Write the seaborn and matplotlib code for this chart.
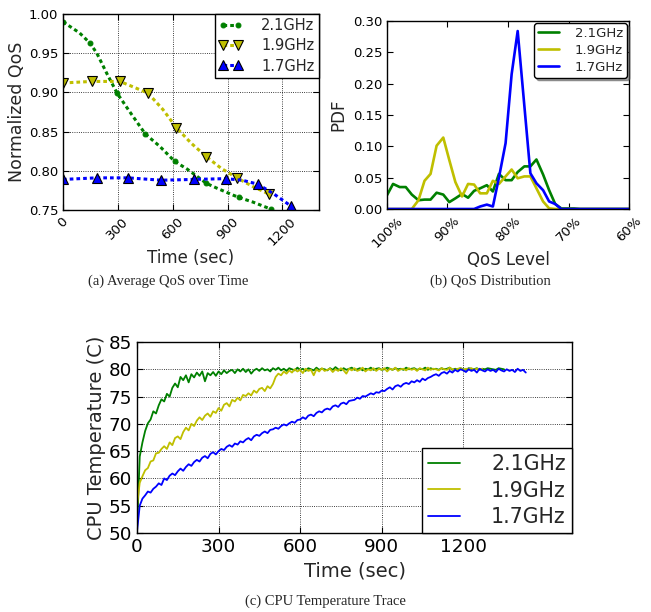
import numpy as np
import matplotlib
matplotlib.use("Agg")
import matplotlib.pyplot as plt
import seaborn as sns

freq_labels = ["2.1GHz", "1.9GHz", "1.7GHz"]
freq_colors = ["#008000", "#bfbf00", "#0000ff"]

# (a) average QoS over time
qos_t_21 = [0, 90, 147, 185, 240, 296, 360, 420, 450, 530, 611, 680, 750, 784, 840, 930, 962, 1040, 1138]
qos_v_21 = [0.990, 0.976, 0.963, 0.950, 0.924, 0.899, 0.877, 0.857, 0.847, 0.831, 0.812, 0.802,
            0.790, 0.784, 0.778, 0.769, 0.766, 0.760, 0.751]
qos_t_19 = [0, 157, 311, 384, 465, 547, 620, 702, 784, 866, 951, 1038, 1129]
qos_v_19 = [0.912, 0.914, 0.914, 0.907, 0.899, 0.878, 0.855, 0.835, 0.818, 0.803, 0.791, 0.780, 0.770]
qos_t_17 = [0, 184, 356, 538, 715, 889, 980, 1065, 1150, 1247]
qos_v_17 = [0.789, 0.791, 0.791, 0.788, 0.789, 0.790, 0.788, 0.783, 0.771, 0.755]
marks_21 = [0, 2, 5, 8, 10, 13, 16, 18]
marks_19 = [0, 1, 2, 4, 6, 8, 10, 12]
marks_17 = [0, 1, 2, 3, 4, 5, 7, 9]

# (b) QoS distribution
qos_level = [100, 99.0, 97.9, 96.9, 95.9, 94.8, 93.8, 92.8, 91.8, 90.7, 89.7, 88.7, 87.6, 86.6,
             85.6, 84.6, 83.5, 82.5, 81.5, 80.4, 79.4, 78.4, 77.3, 76.3, 75.3, 74.2, 73.2, 72.2,
             71.2, 70.1, 69.1, 68.1, 67.0, 66.0, 65.0, 63.9, 62.9, 61.9, 60.0]
pdf_21 = [0.022, 0.040, 0.035, 0.035, 0.023, 0.014, 0.015, 0.015, 0.026, 0.023, 0.011, 0.017, 0.024,
          0.018, 0.029, 0.033, 0.038, 0.028, 0.056, 0.046, 0.046, 0.059, 0.068, 0.068, 0.079, 0.055,
          0.030, 0.008, 0.001, 0.001, 0.001, 0.0, 0.0, 0.0, 0.0, 0.0, 0.0, 0.0, 0.0]
pdf_19 = [0.0, 0.0, 0.0, 0.0, 0.0, 0.014, 0.045, 0.056, 0.101, 0.114, 0.078, 0.043, 0.020, 0.040,
          0.039, 0.025, 0.025, 0.045, 0.040, 0.052, 0.063, 0.049, 0.052, 0.052, 0.033, 0.012, 0.001,
          0.0, 0.0, 0.0, 0.0, 0.0, 0.0, 0.0, 0.0, 0.0, 0.0, 0.0, 0.0]
pdf_17 = [0.0, 0.0, 0.0, 0.0, 0.0, 0.0, 0.0, 0.0, 0.0, 0.0, 0.0, 0.0, 0.0, 0.0, 0.0, 0.004, 0.007,
          0.004, 0.050, 0.105, 0.215, 0.284, 0.165, 0.057, 0.041, 0.030, 0.012, 0.008, 0.0, 0.0, 0.0,
          0.0, 0.0, 0.0, 0.0, 0.0, 0.0, 0.0, 0.0]

# (c) CPU temperature trace, one reading every 10 s
temp_step = 10
temp_21 = [50.5, 64.0, 66.6, 68.7, 70.1, 70.8, 72.3, 71.9, 73.4, 74.5,
           74.1, 75.5, 75.0, 76.6, 77.4, 76.7, 78.6, 78.0, 78.9, 77.6,
           79.1, 78.5, 79.4, 78.8, 79.6, 77.8, 79.3, 78.9, 79.5, 78.8,
           79.6, 79.1, 79.8, 79.3, 79.7, 79.9, 79.3, 80.0, 79.6, 80.1,
           79.5, 80.0, 79.2, 79.8, 80.1, 79.7, 80.2, 79.8, 80.0, 79.6,
           80.2, 79.9, 80.3, 79.8, 80.1, 79.7, 80.2, 80.0, 79.8, 80.3,
           79.9, 80.1, 79.7, 80.2, 80.0, 79.8, 80.3, 79.9, 80.1, 80.0,
           79.8, 80.2, 79.9, 80.4, 80.0, 79.8, 80.2, 79.9, 80.1, 80.3,
           79.9, 80.0, 80.2, 79.8, 80.1, 80.0, 80.3, 79.9, 80.1, 80.2,
           79.9, 80.0, 80.3, 80.1, 79.9, 80.2, 80.0, 80.1, 79.9, 80.3,
           80.0, 80.1, 80.2, 79.9, 80.1, 80.0, 80.3, 79.9, 80.2, 80.0,
           80.1, 79.9, 80.2, 80.0, 80.1, 80.3, 79.9, 80.1, 80.0, 80.2,
           80.0, 79.9, 80.2, 80.1, 80.0, 80.2, 79.9, 80.1, 80.0, 80.2,
           80.1, 80.0, 79.9, 80.2, 80.1, 80.0]
temp_19 = [55.0, 59.2, 60.4, 61.5, 61.9, 63.1, 63.3, 64.6, 64.7, 65.4,
           65.9, 65.4, 66.6, 66.1, 67.4, 67.7, 67.2, 68.5, 69.3, 68.8,
           70.0, 69.6, 70.6, 71.2, 70.7, 71.5, 71.9, 71.3, 72.3, 72.0,
           72.9, 72.4, 73.5, 73.8, 73.2, 74.4, 74.1, 74.8, 74.3, 75.3,
           75.1, 75.6, 75.2, 76.1, 75.7, 76.4, 76.6, 76.0, 76.9, 76.5,
           77.3, 78.6, 79.2, 78.9, 79.6, 79.2, 79.8, 79.4, 80.0, 79.6,
           79.9, 79.3, 80.1, 79.7, 79.9, 78.9, 80.0, 79.6, 80.2, 79.7,
           79.9, 80.1, 79.5, 80.0, 79.7, 80.2, 79.8, 79.2, 80.1, 79.8,
           80.2, 79.7, 79.9, 80.3, 79.6, 80.0, 79.8, 80.2, 79.7, 80.1,
           79.9, 80.2, 79.6, 80.1, 79.9, 80.3, 79.7, 80.0, 80.1, 79.8,
           80.2, 79.9, 80.1, 79.7, 80.2, 80.0, 79.8, 80.3, 79.9, 80.1,
           80.0, 79.8, 80.2, 80.0, 79.9, 80.3, 80.0, 79.9, 80.1, 80.2,
           79.9, 80.1, 80.0, 80.2, 79.9, 80.1, 80.0, 80.1]
temp_17 = [50.3, 55.0, 56.3, 56.9, 57.6, 57.4, 58.1, 58.5, 59.1, 58.8,
           60.0, 59.7, 60.5, 60.9, 60.6, 61.3, 61.8, 61.4, 62.1, 62.6,
           62.3, 63.0, 63.4, 63.1, 63.8, 64.1, 63.7, 64.5, 64.8, 64.4,
           65.0, 65.4, 65.2, 65.8, 66.1, 65.8, 66.4, 66.2, 66.8, 66.6,
           67.1, 67.4, 67.0, 67.7, 68.0, 67.8, 68.3, 68.6, 68.3, 68.9,
           69.0, 69.3, 69.1, 69.6, 69.9, 69.7, 70.1, 70.4, 70.2, 70.7,
           70.8, 71.2, 70.9, 71.5, 71.7, 71.4, 72.0, 72.3, 72.1, 72.6,
           72.8, 72.6, 73.2, 73.4, 73.1, 73.7, 73.9, 73.6, 74.2, 74.3,
           74.4, 74.8, 74.6, 75.1, 75.0, 75.3, 75.6, 75.4, 75.8, 75.7,
           76.1, 76.0, 76.4, 76.7, 76.3, 76.9, 77.1, 76.8, 77.3, 77.5,
           77.3, 77.8, 77.6, 78.0, 77.7, 78.3, 78.0, 78.4, 78.6, 78.9,
           79.1, 78.8, 79.3, 79.5, 79.2, 79.7, 79.4, 79.9, 79.6, 80.0,
           79.8, 79.5, 80.0, 79.7, 79.9, 79.4, 80.1, 79.8, 79.6, 80.0,
           79.7, 79.9, 79.5, 80.1, 79.8, 79.6, 80.0, 79.7, 79.9, 79.5,
           80.1, 79.7, 79.9, 79.4]

sns.set_theme(style="ticks")
plt.rcParams["font.family"] = ["DejaVu Sans"]
plt.rcParams["axes.edgecolor"] = "black"
plt.rcParams["axes.linewidth"] = 1.0

fig = plt.figure(figsize=(6.51, 6.12), dpi=100)


def frame(ax, fs):
    ax.grid(True, color="black", linestyle=":", linewidth=0.6)
    ax.tick_params(direction="in", top=True, right=True, length=4, width=0.8,
                   labelsize=fs, colors="black")
    for s in ax.spines.values():
        s.set_color("black")


# ---- (a)
ax_a = fig.add_axes([63 / 651, 1 - 210 / 612, 256 / 651, 196 / 612])
dots = (0, (1.2, 1.0))
sns.lineplot(x=qos_t_21, y=qos_v_21, ax=ax_a, color=freq_colors[0], lw=2.2, linestyle=dots,
             marker="o", ms=3.5, mec=freq_colors[0], markevery=marks_21, errorbar=None,
             label=freq_labels[0])
sns.lineplot(x=qos_t_19, y=qos_v_19, ax=ax_a, color=freq_colors[1], lw=2.2, linestyle=dots,
             marker="v", ms=6.5, mec="black", mew=0.8, markevery=marks_19, errorbar=None,
             label=freq_labels[1])
sns.lineplot(x=qos_t_17, y=qos_v_17, ax=ax_a, color=freq_colors[2], lw=2.2, linestyle=dots,
             marker="^", ms=6.5, mec="black", mew=0.8, markevery=marks_17, errorbar=None,
             label=freq_labels[2])
ax_a.set_xlim(0, 1400)
ax_a.set_ylim(0.75, 1.0)
ax_a.set_xticks([0, 300, 600, 900, 1200])
ax_a.set_yticks([0.75, 0.80, 0.85, 0.90, 0.95, 1.00])
ax_a.set_yticklabels(["0.75", "0.80", "0.85", "0.90", "0.95", "1.00"])
frame(ax_a, 9.5)
plt.setp(ax_a.get_xticklabels(), rotation=45, ha="center")
ax_a.set_xlabel("Time (sec)", fontsize=12, labelpad=1)
ax_a.set_ylabel("Normalized QoS", fontsize=12.5, labelpad=2)
leg = ax_a.legend(loc="upper right", fontsize=10.5, borderaxespad=0, borderpad=0.3,
                  labelspacing=0.35, handlelength=1.6, handletextpad=1.3, numpoints=2,
                  fancybox=False, framealpha=1)
leg.get_frame().set_edgecolor("black")
leg.get_frame().set_linewidth(1.0)

# ---- (b)
ax_b = fig.add_axes([387 / 651, 1 - 209 / 612, 242 / 651, 188 / 612])
for vals, c, lab in zip([pdf_21, pdf_19, pdf_17], freq_colors, freq_labels):
    sns.lineplot(x=qos_level, y=vals, ax=ax_b, color=c, lw=1.9, errorbar=None, label=lab)
ax_b.set_xlim(100, 60)
ax_b.set_ylim(0, 0.30)
ax_b.set_xticks([100, 90, 80, 70, 60])
ax_b.set_xticklabels(["100%", "90%", "80%", "70%", "60%"])
ax_b.set_yticks([0, 0.05, 0.10, 0.15, 0.20, 0.25, 0.30])
ax_b.set_yticklabels(["0.00", "0.05", "0.10", "0.15", "0.20", "0.25", "0.30"])
frame(ax_b, 9.5)
ax_b.grid(False)
plt.setp(ax_b.get_xticklabels(), rotation=45, ha="center")
ax_b.set_xlabel("QoS Level", fontsize=12, labelpad=1)
ax_b.set_ylabel("PDF", fontsize=12)
leg = ax_b.legend(loc="upper right", fontsize=9.5, borderaxespad=0.15, borderpad=0.3,
                  labelspacing=0.3, handlelength=1.6, handletextpad=1.2, fancybox=True,
                  shadow=True, framealpha=1)
leg.get_frame().set_edgecolor("black")

# ---- (c)
ax_c = fig.add_axes([137 / 651, 1 - 533 / 612, 435 / 651, 191 / 612])
for vals, c, lab in zip([temp_21, temp_19, temp_17], freq_colors, freq_labels):
    sns.lineplot(x=np.arange(len(vals)) * temp_step, y=vals, ax=ax_c, color=c, lw=1.3,
                 errorbar=None, label=lab)
ax_c.set_xlim(0, 1600)
ax_c.set_ylim(50, 85)
ax_c.set_xticks([0, 300, 600, 900, 1200])
ax_c.set_yticks([50, 55, 60, 65, 70, 75, 80, 85])
frame(ax_c, 13.2)
ax_c.set_xlabel("Time (sec)", fontsize=14, labelpad=4)
ax_c.set_ylabel("CPU Temperature (C)", fontsize=14, labelpad=2)
leg = ax_c.legend(loc="lower right", fontsize=14.8, borderaxespad=0, borderpad=0.3,
                  labelspacing=0.3, handlelength=1.55, handletextpad=1.5, fancybox=False,
                  framealpha=1)
leg.get_frame().set_edgecolor("black")
leg.get_frame().set_linewidth(1.0)

# captions
cap = dict(ha="center", va="center", family="Liberation Serif", fontsize=10.5)
fig.text(168 / 651, 1 - 281 / 612, "(a) Average QoS over Time", **cap)
fig.text(490 / 651, 1 - 281 / 612, "(b) QoS Distribution", **cap)
fig.text(325 / 651, 1 - 601 / 612, "(c) CPU Temperature Trace", **cap)

fig.savefig("out.png", dpi=100)
